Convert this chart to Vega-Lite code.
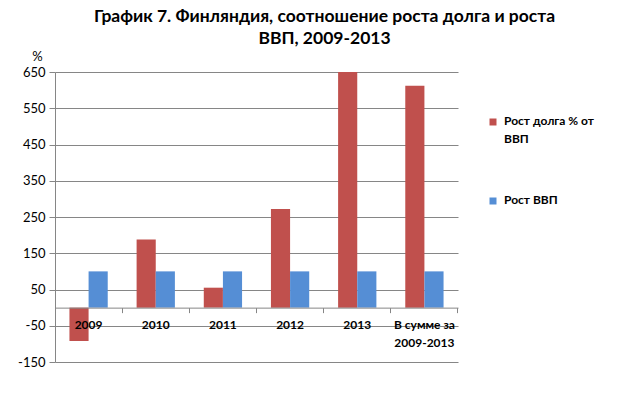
{
  "$schema": "https://vega.github.io/schema/vega-lite/v6.json",
  "width": 403,
  "height": 290,
  "autosize": {"type": "none"},
  "padding": {"left": 55, "top": 72, "right": 166, "bottom": 34},
  "background": "white",
  "title": {
    "text": ["График 7. Финляндия, соотношение роста долга и роста", "ВВП, 2009-2013"],
    "font": "Lato",
    "fontSize": 17.5,
    "fontWeight": "bold",
    "color": "#000000",
    "anchor": "middle",
    "frame": "group",
    "dx": 68,
    "lineHeight": 22,
    "offset": 3
  },
  "data": {
    "values": [
      {"cat": "2009", "series": "Рост долга % от ВВП", "value": -92},
      {"cat": "2009", "series": "Рост ВВП", "value": 100},
      {"cat": "2010", "series": "Рост долга % от ВВП", "value": 188},
      {"cat": "2010", "series": "Рост ВВП", "value": 100},
      {"cat": "2011", "series": "Рост долга % от ВВП", "value": 55},
      {"cat": "2011", "series": "Рост ВВП", "value": 100},
      {"cat": "2012", "series": "Рост долга % от ВВП", "value": 272},
      {"cat": "2012", "series": "Рост ВВП", "value": 100},
      {"cat": "2013", "series": "Рост долга % от ВВП", "value": 650},
      {"cat": "2013", "series": "Рост ВВП", "value": 100},
      {"cat": "В сумме за 2009-2013", "series": "Рост долга % от ВВП", "value": 612},
      {"cat": "В сумме за 2009-2013", "series": "Рост ВВП", "value": 100}
    ]
  },
  "encoding": {
    "y": {
      "field": "value",
      "type": "quantitative",
      "scale": {"domain": [-150, 650], "nice": false, "zero": false},
      "axis": {
        "title": "%",
        "titleAngle": 0,
        "titleFont": "Lato",
        "titleFontSize": 13,
        "titleFontWeight": "normal",
        "titleColor": "#000000",
        "titleX": -18,
        "titleY": -16,
        "titleAlign": "center",
        "titleBaseline": "middle",
        "values": [-150, -50, 50, 150, 250, 350, 450, 550, 650],
        "labelExpr": "replace(datum.label, '−', '-')",
        "labelOverlap": false,
        "labelFont": "Lato",
        "labelFontSize": 13,
        "labelColor": "#000000",
        "labelPadding": 4,
        "tickSize": 6,
        "tickColor": "#868686",
        "domainColor": "#868686",
        "grid": true,
        "gridColor": "#868686",
        "gridWidth": 1
      }
    }
  },
  "layer": [
    {
      "mark": {"type": "bar"},
      "encoding": {
        "x": {
          "field": "cat",
          "type": "nominal",
          "sort": null,
          "scale": {"paddingInner": 0.43, "paddingOuter": 0.215},
          "axis": {
            "orient": "bottom",
            "title": null,
            "labelAngle": 0,
            "labelFont": "Lato",
            "labelFontSize": 12,
            "labelFontWeight": "bold",
            "labelColor": "#000000",
            "labelPadding": 12,
            "labelLineHeight": 18,
            "labelExpr": "datum.label == 'В сумме за 2009-2013' ? ['В сумме  за', '2009-2013'] : datum.label",
            "ticks": false,
            "domain": true,
            "domainColor": "#868686",
            "grid": false,
            "offset": -54.375,
            "zindex": 1
          }
        },
        "xOffset": {"field": "series", "type": "nominal", "sort": ["Рост долга % от ВВП", "Рост ВВП"], "scale": {"paddingInner": 0, "paddingOuter": 0}},
        "color": {
          "field": "series",
          "type": "nominal",
          "sort": ["Рост долга % от ВВП", "Рост ВВП"],
          "scale": {"domain": ["Рост долга % от ВВП", "Рост ВВП"], "range": ["#C0504D", "#558ED5"]},
          "legend": {
            "title": null,
            "orient": "none",
            "legendX": 432,
            "legendY": 44,
            "direction": "vertical",
            "symbolType": "square",
            "symbolSize": 49,
            "symbolStrokeWidth": 0,
            "labelFont": "Lato",
            "labelFontSize": 12,
            "labelFontWeight": "bold",
            "labelColor": "#000000",
            "labelOffset": 5,
            "labelBaseline": "top",
            "labelLimit": 200,
            "rowPadding": 49,
            "labelExpr": "datum.label == 'Рост долга % от ВВП' ? ['Рост долга % от', 'ВВП'] : datum.label",
            "encode": {
              "labels": {"update": {"dy": {"value": -6}, "lineHeight": {"value": 18}}}
            }
          }
        }
      }
    },
    {
      "mark": {"type": "tick", "opacity": 0},
      "encoding": {
        "x": {
          "field": "cat",
          "type": "nominal",
          "sort": null,
          "axis": {
            "orient": "bottom",
            "title": null,
            "labels": false,
            "domain": false,
            "grid": false,
            "ticks": true,
            "tickSize": 5,
            "tickWidth": 1,
            "tickColor": "#868686",
            "bandPosition": 1.377,
            "offset": -54.375,
            "zindex": 1
          }
        }
      }
    }
  ],
  "resolve": {"axis": {"x": "independent"}},
  "config": {
    "view": {"stroke": null}
  }
}
